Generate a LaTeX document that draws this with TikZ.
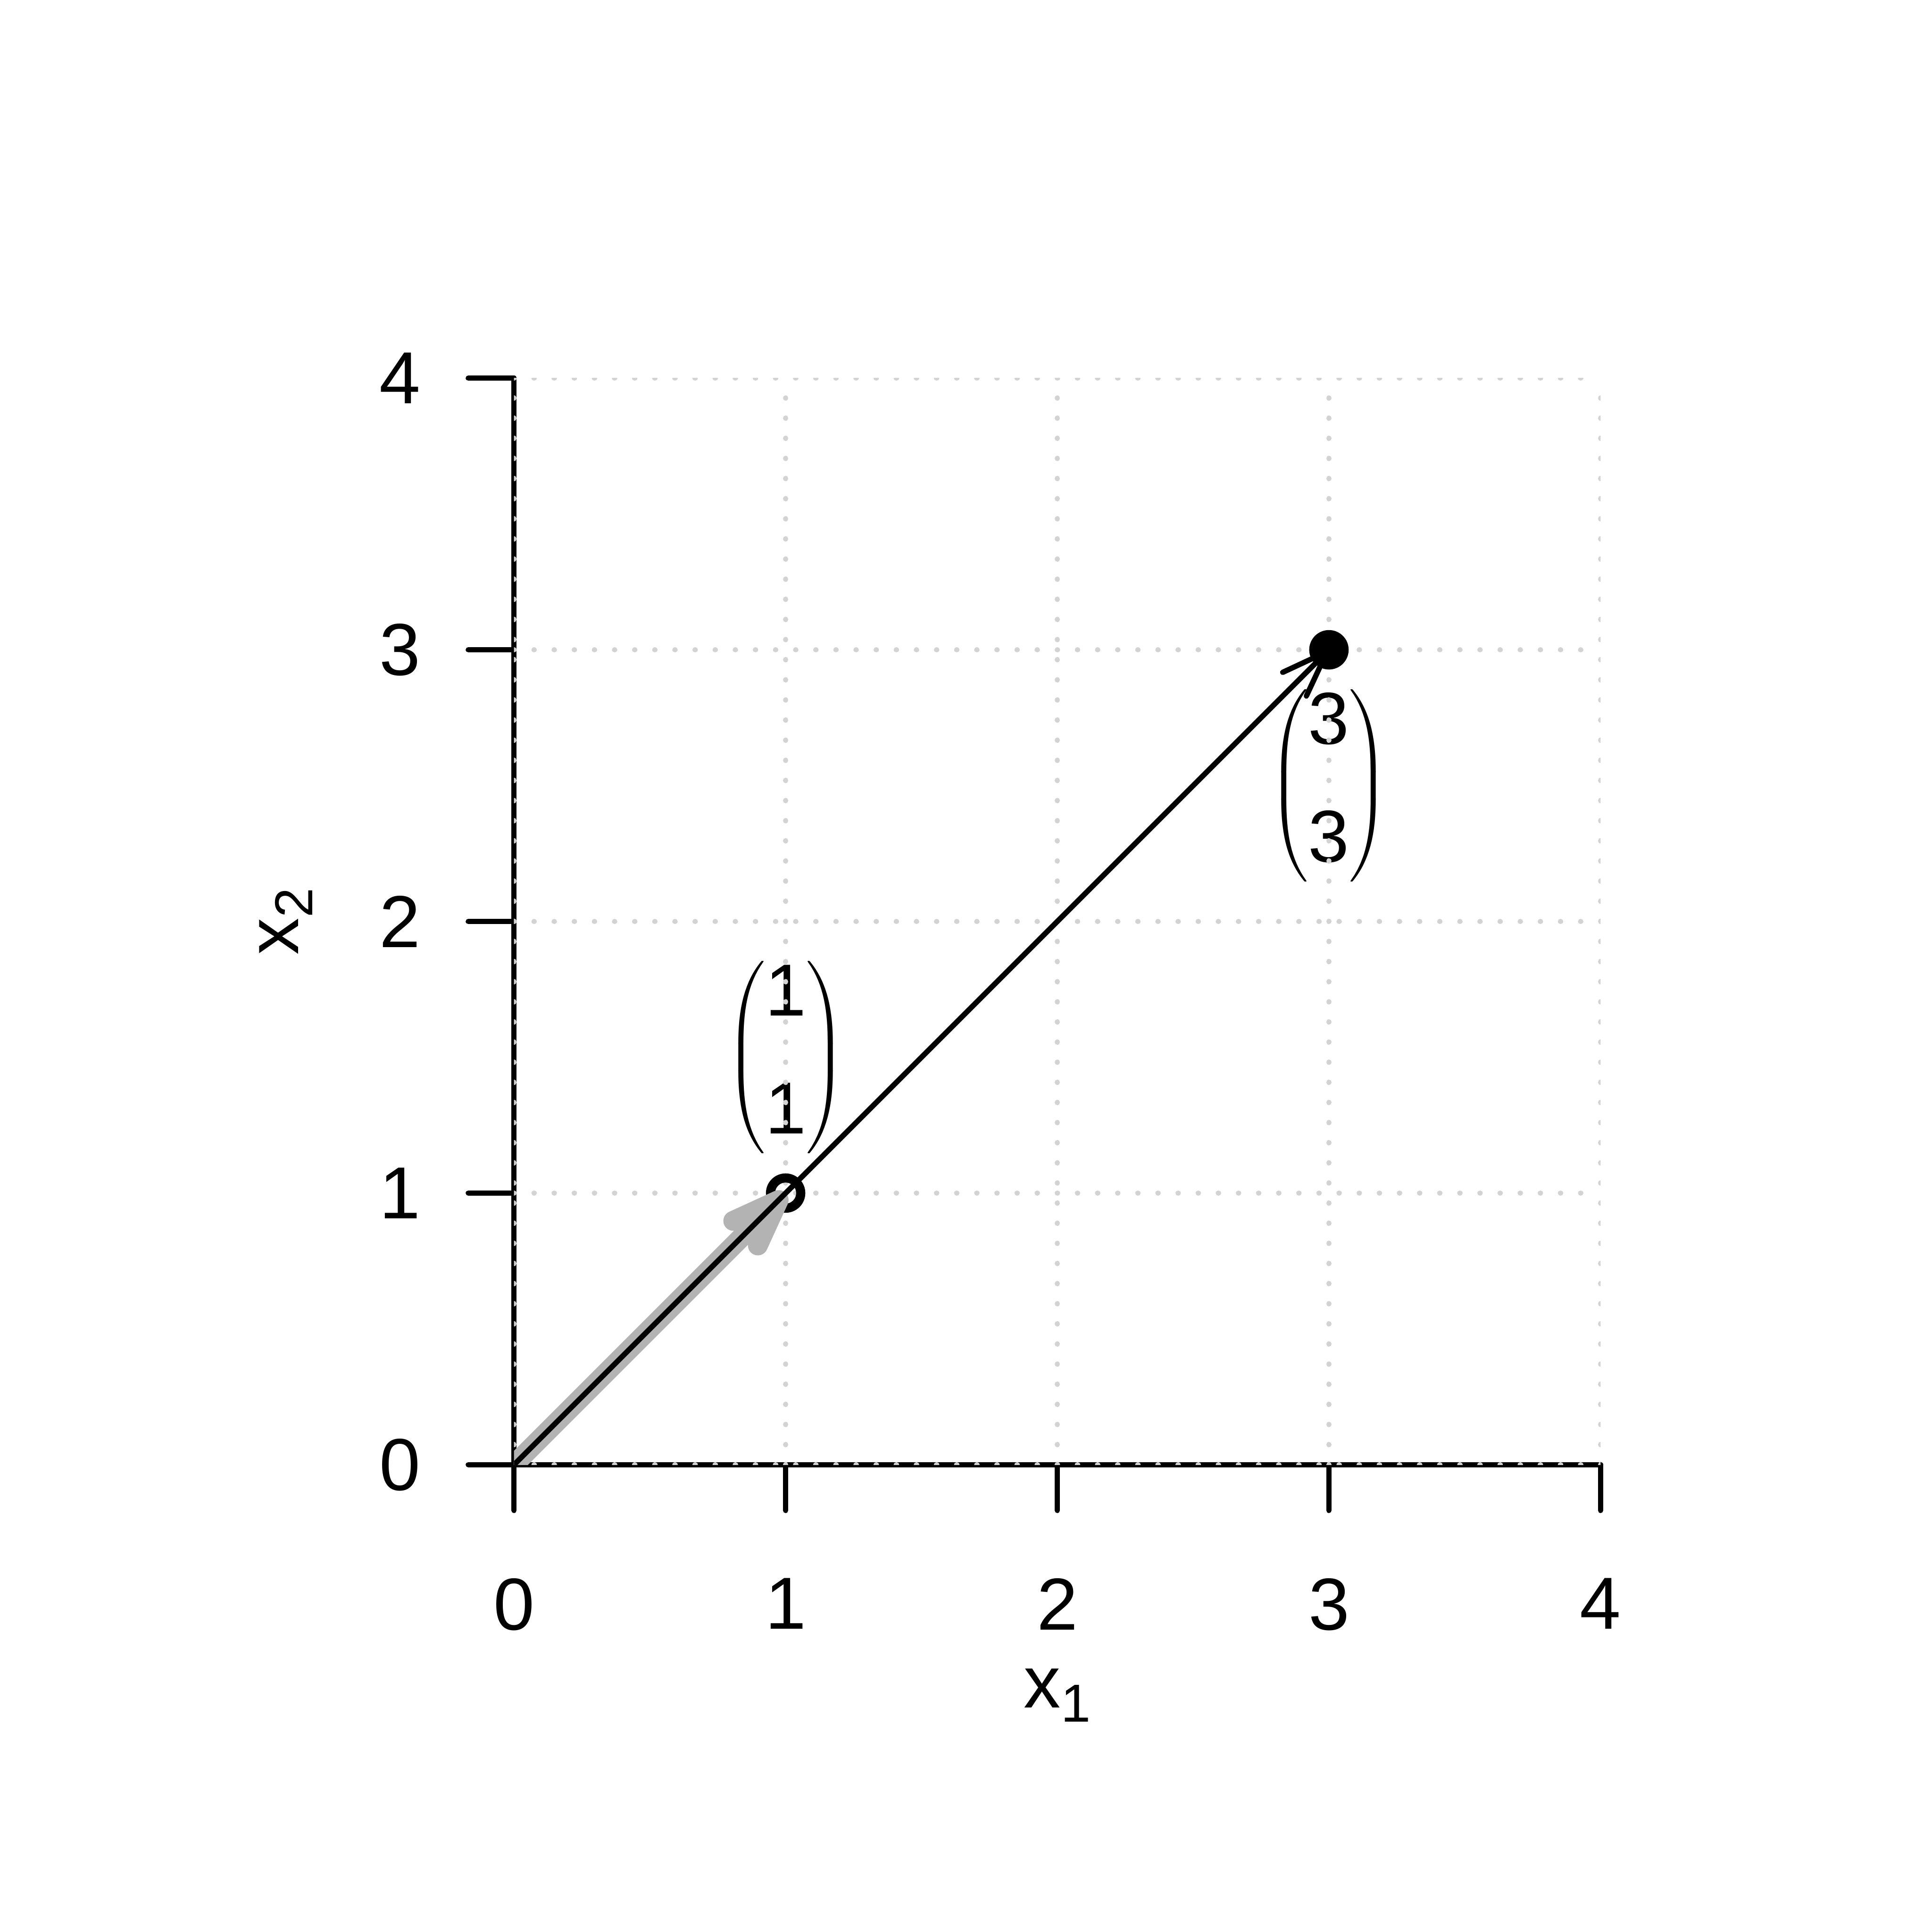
\documentclass[tikz,border=0pt]{standalone}
\usepackage{amsmath}
\usepackage{fontspec}
\setmainfont{Liberation Sans}
\usepackage{tikz}
\usetikzlibrary{arrows.meta,positioning,calc}
\usepackage{xcolor}
\definecolor{gridgray}{HTML}{D3D3D3}
\definecolor{vecgray}{HTML}{B3B3B3}

% column vector label: small-size parens round two big digits
\newcommand{\colvec}[2]{{\fontsize{12.5}{14}\selectfont$\left(\vcenter{\hbox{\fontsize{19.3}{23}\selectfont\begin{tabular}{@{}c@{}}#1\\[7.9pt]#2\end{tabular}}}\right)$}}

\begin{document}
\begin{tikzpicture}[
  x=2.5cm, y=2.5cm,
  font=\fontsize{19.3}{23}\selectfont,
  axisline/.style={
    line width=1.4pt,
    line cap=round,
    draw=black
  },
  gridline/.style={
    draw=gridgray,
    line width=1.4pt,
    line cap=round,
    dash pattern=on 0.01pt off 5.26pt
  },
  ticklab/.style={
    inner sep=0pt,
    text=black
  },
  vecthick/.style={
    draw=vecgray,
    line width=5.2pt,
    -{Straight Barb[length=0.43cm, width=0.32cm, round]}
  },
  vecthin/.style={
    draw=black,
    line width=1.4pt,
    -{Straight Barb[length=0.423cm, width=0.308cm, round]}
  }
]

  \useasboundingbox (-1.892,-1.720) rectangle (5.220,5.392);

  \coordinate (o) at (0,0);
  \coordinate (p1) at (1,1);
  \coordinate (p3) at (3,3);

  % Axes with ticks
  \draw[axisline] (o) -- (4,0);
  \draw[axisline] (o) -- (0,4);
  \foreach \k in {0,...,4} {
    \draw[axisline] (\k,0) -- (\k,-0.168);
    \draw[axisline] (0,\k) -- (-0.168,\k);
    \node[ticklab, anchor=north] (xt\k) at (\k,-0.415) {\k};
    \node[ticklab, anchor=east] (yt\k) at (-0.342,\k) {\k};
  }

  % Axis titles
  \node[ticklab, anchor=base] (xlab) at (2,-0.895) {x\raisebox{-3.7pt}{\fontsize{14}{16}\selectfont 1}};
  \node[ticklab, anchor=base, rotate=90] (ylab) at (-0.793,2) {x\raisebox{-3.7pt}{\fontsize{14}{16}\selectfont 2}};

  % Vector labels
  \node[ticklab] (lab1) at (1,1.5) {\colvec{1}{1}};
  \node[ticklab] (lab3) at (3,2.5) {\colvec{3}{3}};

  % --- PLOT REGION ---
  \begin{scope}
    \clip (0,0) rectangle (4,4);
    \foreach \k in {0,...,4} {
      \draw[gridline] (\k,0) -- (\k,4);
      \draw[gridline] (0,\k) -- (4,\k);
    }
    \draw[line width=2.4pt] (p1) circle[radius=0.139cm];
    \draw[vecthick] (o) -- (p1);
    \draw[vecthin] (o) -- (p3);
    \fill (p3) circle[radius=0.1815cm];
  \end{scope}

\end{tikzpicture}
\end{document}
